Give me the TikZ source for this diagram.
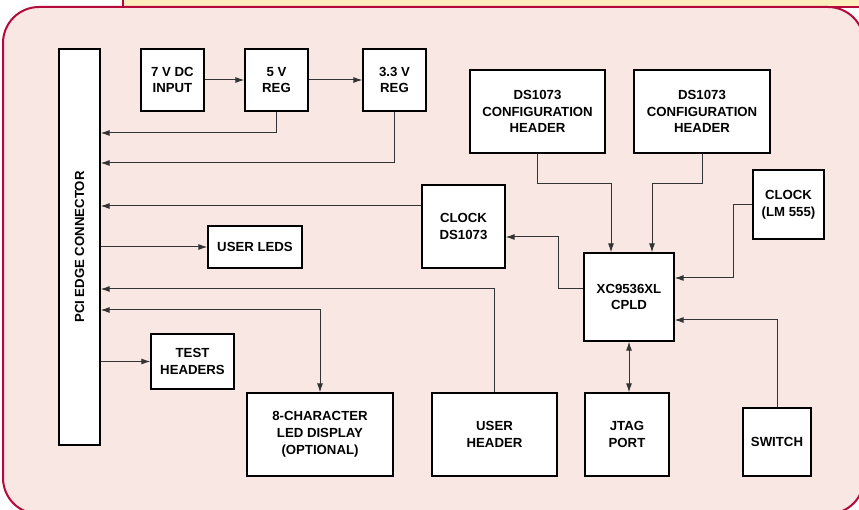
\documentclass[tikz,border=0pt]{standalone}
\usepackage{xcolor}
\usepackage{fontspec}
\setmainfont{Liberation Sans}
\usepackage{tikz}
\usetikzlibrary{arrows.meta, positioning, calc}

\definecolor{edgered}{RGB}{180,10,60}
\definecolor{bandyellow}{RGB}{253,238,190}
\definecolor{panelpink}{RGB}{248,231,227}

\begin{document}
\begin{tikzpicture}[x=1pt, y=-1pt, >={Latex[length=9pt,width=6pt]},
    box/.style={draw, line width=1.3pt, fill=white, inner sep=0pt, align=center,
                font=\bfseries\fontsize{13.2}{16.8}\selectfont},
    wire/.style={line width=1pt, draw=black!80}
]
\useasboundingbox (0,0) rectangle (859,510);

% Panel
\draw[fill=bandyellow, draw=edgered, line width=2pt] (123,-10) rectangle (880,7);
\draw[fill=panelpink, draw=edgered, line width=2pt, rounded corners=36pt] (3,7) rectangle (864,514);

% Nodes
\node[box, minimum width=41pt, minimum height=396pt] (pci) at (79.5,247) {\rotatebox{90}{PCI EDGE CONNECTOR}};
\node[box, minimum width=63pt, minimum height=62pt] (dcin) at (172.5,80) {7 V DC\\INPUT};
\node[box, minimum width=63pt, minimum height=62pt] (reg5) at (276.5,80) {5 V\\REG};
\node[box, minimum width=63pt, minimum height=62pt] (reg33) at (394.5,80) {3.3 V\\REG};
\node[box, minimum width=135pt, minimum height=83pt] (cfga) at (537.5,111.5) {DS1073\\CONFIGURATION\\HEADER};
\node[box, minimum width=136pt, minimum height=83pt] (cfgb) at (702,111.5) {DS1073\\CONFIGURATION\\HEADER};
\node[box, minimum width=71pt, minimum height=69pt] (clklm) at (788.5,204.5) {CLOCK\\(LM 555)};
\node[box, minimum width=83pt, minimum height=83pt] (clkds) at (463.5,226.5) {CLOCK\\DS1073};
\node[box, minimum width=94pt, minimum height=42pt] (leds) at (255,247) {USER LEDS};
\node[box, minimum width=90pt, minimum height=88pt] (cpld) at (629,297) {XC9536XL\\CPLD};
\node[box, minimum width=83pt, minimum height=55pt] (test) at (192.5,361.5) {TEST\\HEADERS};
\node[box, minimum width=146pt, minimum height=83pt] (disp) at (320,434.5) {8-CHARACTER\\LED DISPLAY\\(OPTIONAL)};
\node[box, minimum width=125pt, minimum height=83pt] (uhdr) at (494.5,434.5) {USER\\HEADER};
\node[box, minimum width=84pt, minimum height=83pt] (jtag) at (627,434.5) {JTAG\\PORT};
\node[box, minimum width=68pt, minimum height=68pt] (switch) at (777,442) {SWITCH};

% Connections
\draw[wire, ->] (dcin) -- (reg5);
\draw[wire, ->] (reg5) -- (reg33);
\draw[wire, ->] (reg5.south) |- (pci.east |- 0,133);
\draw[wire, ->] (reg33.south) |- (pci.east |- 0,163);
\draw[wire, ->] (clkds.west |- 0,206) -- (pci.east |- 0,206);
\draw[wire, ->] (pci.east |- leds) -- (leds);
\draw[wire, ->] (uhdr.north) |- (pci.east |- 0,289);
\draw[wire, <->] (pci.east |- 0,310) -| (disp.north);
\draw[wire, ->] (pci.east |- test) -- (test.west);

\draw[wire, ->] (cfga.south) |- (611,184) -- (cpld.north -| 611,0);
\draw[wire, ->] (cfgb.south) |- (652,184) -- (cpld.north -| 652,0);
\draw[wire, ->] (clklm.west) -| (733,278) -- (cpld.east |- 0,278);
\draw[wire, ->] (switch.north) |- (cpld.east |- 0,320);
\draw[wire, ->] (cpld.west |- 0,289) -| (558,237) -- (clkds.east |- 0,237);
\draw[wire, <->] (cpld.south) -- (cpld.south |- jtag.north);

\end{tikzpicture}
\end{document}
